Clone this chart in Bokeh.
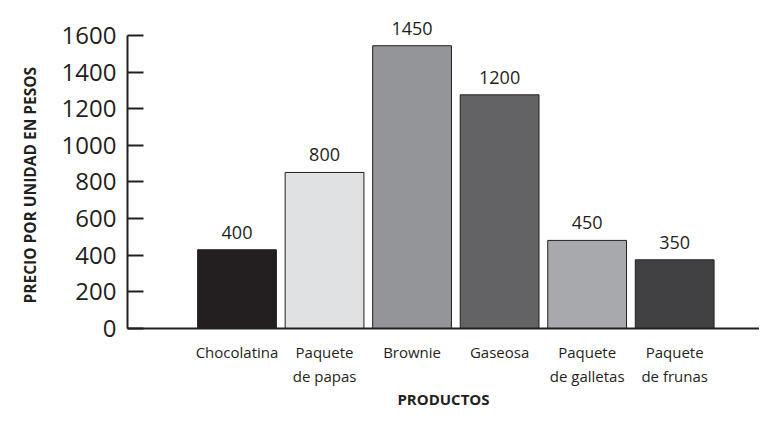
from bokeh.plotting import figure
from bokeh.models import ColumnDataSource, Range1d, FixedTicker, LabelSet, Title
from bokeh.core.properties import value
from bokeh.embed import file_html
from bokeh.resources import INLINE

# ---- data ----
products = ["Chocolatina", "Paquete\nde papas", "Brownie", "Gaseosa",
            "Paquete\nde galletas", "Paquete\nde frunas"]
price_labels = ["400", "800", "1450", "1200", "450", "350"]
bar_heights = [430, 852, 1544, 1276, 481, 375]
bar_colors = ["#231f20", "#e0e1e3", "#939598", "#636365", "#a7a9ac", "#414143"]
y_ticks = [0, 200, 400, 600, 800, 1000, 1200, 1400, 1600]

positions = list(range(1, len(products) + 1))
INK = "#231f20"
FONT = "Open Sans"

src = ColumnDataSource(dict(x=positions, top=bar_heights, color=bar_colors,
                            label=price_labels))

p = figure(width=759, height=411, output_backend="svg", toolbar_location=None,
           x_range=Range1d(-0.251, 6.969), y_range=Range1d(0, 1791),
           min_border_left=127, min_border_right=0, min_border_top=0,
           min_border_bottom=0)
p.outline_line_color = None
p.xgrid.visible = False
p.ygrid.visible = False
p.background_fill_color = "white"
p.border_fill_color = "white"

p.vbar(x="x", top="top", bottom=0, width=0.9, fill_color="color",
       line_color=INK, line_width=1, source=src)

labels = LabelSet(x="x", y="top", text="label", source=src, y_offset=11,
                  text_align="center", text_baseline="alphabetic",
                  text_font=value(FONT), text_font_size="18px", text_color=INK)
p.add_layout(labels)

# y axis
ya = p.yaxis[0]
ya.ticker = FixedTicker(ticks=y_ticks)
ya.bounds = (0, 1600)
ya.axis_line_color = INK
ya.axis_line_width = 2
ya.major_tick_line_color = INK
ya.major_tick_line_width = 2
ya.major_tick_in = 16
ya.major_tick_out = 0
ya.minor_tick_line_color = None
ya.major_label_standoff = 11
ya.major_label_text_font = FONT
ya.major_label_text_font_size = "24px"
ya.major_label_text_color = INK

ytitle = Title(text="PRECIO POR UNIDAD EN PESOS", align="left", offset=25,
               vertical_align="top",
               text_font=FONT, text_font_size="15.5px", text_font_style="bold",
               text_color=INK, standoff=32)
p.add_layout(ytitle, "left")

# x axis
xa = p.xaxis[0]
xa.ticker = FixedTicker(ticks=positions)
xa.major_label_overrides = {pos: name for pos, name in zip(positions, products)}
xa.axis_line_color = INK
xa.axis_line_width = 2
xa.major_tick_line_color = None
xa.minor_tick_line_color = None
xa.major_label_standoff = 7
xa.major_label_text_font = FONT
xa.major_label_text_font_size = "15px"
xa.major_label_text_color = INK
xa.axis_label = "PRODUCTOS"
xa.axis_label_text_font = FONT
xa.axis_label_text_font_size = "15px"
xa.axis_label_text_font_style = "bold"
xa.axis_label_text_color = INK
xa.axis_label_standoff = 0

open("out.html", "w").write(file_html(p, INLINE))
